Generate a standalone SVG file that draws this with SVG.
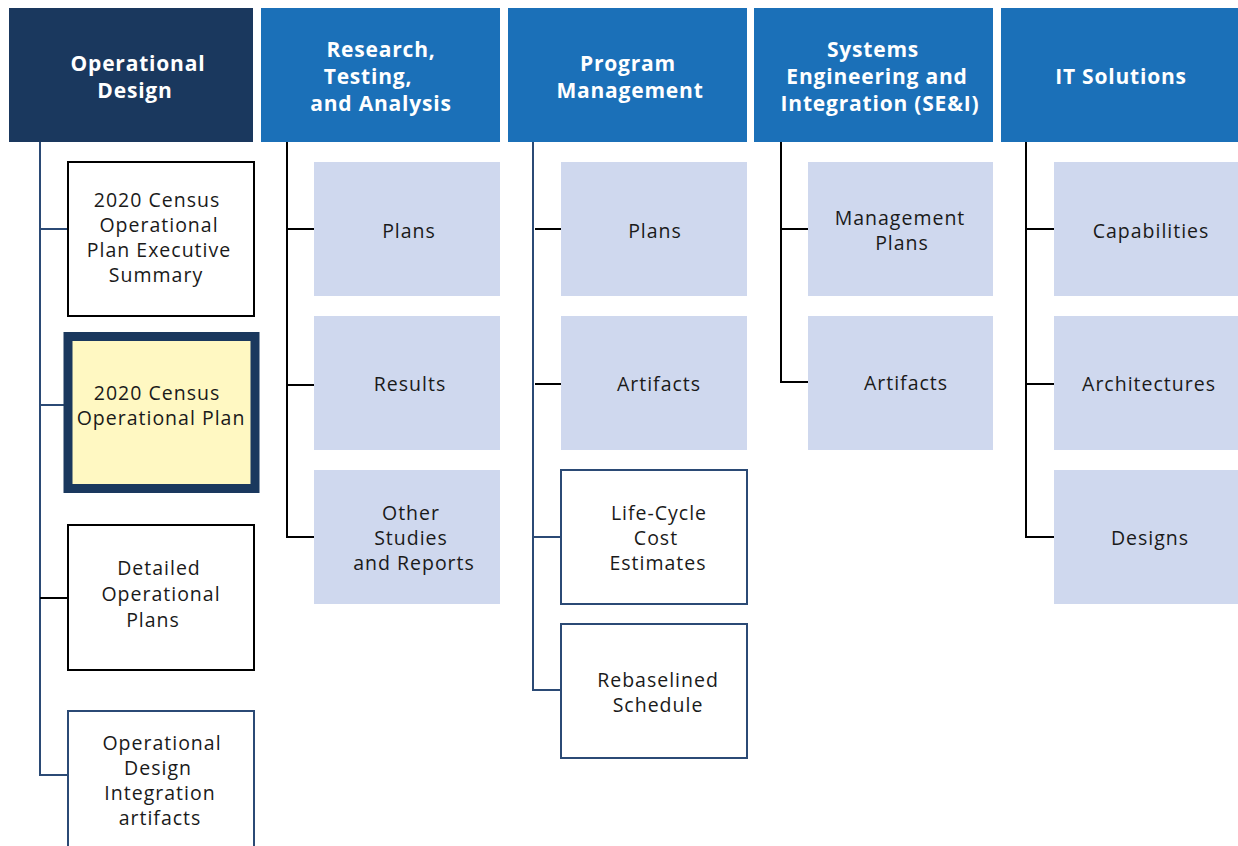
<svg xmlns="http://www.w3.org/2000/svg" width="1238" height="846" viewBox="0 0 1238 846">
<style>
.hd{font-family:"Open Sans","Liberation Sans",sans-serif;font-weight:700;font-size:21px;letter-spacing:0.8px;fill:#fff;text-anchor:middle}
.tx{font-family:"Open Sans","Liberation Sans",sans-serif;font-size:19.5px;letter-spacing:1px;fill:#1a1a1a;text-anchor:middle}
.lt{fill:#cfd8ee}
.wb{fill:#fff;stroke:#000;stroke-width:2}
.wu{fill:#fff;stroke:#2b4a75;stroke-width:2}
.cb{fill:none;stroke:#000;stroke-width:2}
.cu{fill:none;stroke:#2b4a75;stroke-width:2}
</style>
<rect width="1238" height="846" fill="#fff"/>
<g id="connectors">
<path class="cu" d="M40,142V775H68M40,229H68M40,405H64"/>
<path class="cb" d="M40,598H68"/>
<path class="cb" d="M287,142V537H314M287,229H314M287,385H314"/>
<path class="cu" d="M533,142V690H561M533,537H561"/>
<path class="cb" d="M535,229H561M535,384H561"/>
<path class="cb" d="M781,142V382H808M781,229H808"/>
<path class="cb" d="M1026,142V537H1054M1026,229H1054M1026,384H1054"/>
</g>
<g id="h-opdesign"><rect x="9" y="8" width="244" height="134" fill="#1a385e"/><text class="hd" x="138" y="71">Operational</text><text class="hd" x="135" y="98">Design</text></g>
<g id="h-research"><rect x="261" y="8" width="239" height="134" fill="#1b70b8"/><text class="hd" x="381" y="57">Research,</text><text class="hd" x="368" y="84">Testing,</text><text class="hd" x="381" y="111">and Analysis</text></g>
<g id="h-pm"><rect x="508" y="8" width="239" height="134" fill="#1b70b8"/><text class="hd" x="628" y="71">Program</text><text class="hd" x="630" y="98">Management</text></g>
<g id="h-sei"><rect x="754" y="8" width="239" height="134" fill="#1b70b8"/><text class="hd" x="873" y="57">Systems</text><text class="hd" x="877" y="84">Engineering and</text><text class="hd" x="880" y="111">Integration (SE&amp;I)</text></g>
<g id="h-it"><rect x="1001" y="8" width="237" height="134" fill="#1b70b8"/><text class="hd" x="1121" y="84">IT Solutions</text></g>

<g id="n-exec"><rect class="wb" x="68" y="162" width="186" height="154"/><text class="tx" x="157" y="207">2020 Census</text><text class="tx" x="159" y="232">Operational</text><text class="tx" x="159" y="257">Plan Executive</text><text class="tx" x="156" y="282">Summary</text></g>
<g id="n-opplan"><rect x="68" y="336.5" width="187" height="152" fill="#fff8c2" stroke="#1a385e" stroke-width="9"/><text class="tx" x="157" y="399.5">2020 Census</text><text class="tx" x="161" y="424.5">Operational Plan</text></g>
<g id="n-detailed"><rect class="wb" x="68" y="525" width="186" height="145"/><text class="tx" x="159" y="575">Detailed</text><text class="tx" x="161" y="601">Operational</text><text class="tx" x="153" y="627">Plans</text></g>
<g id="n-odi"><rect class="wu" x="68" y="711" width="186" height="145"/><text class="tx" x="162" y="750">Operational</text><text class="tx" x="158" y="775">Design</text><text class="tx" x="160" y="800">Integration</text><text class="tx" x="160" y="825">artifacts</text></g>

<g id="n-rta-plans"><rect class="lt" x="314" y="162" width="186" height="134"/><text class="tx" x="409" y="238">Plans</text></g>
<g id="n-rta-results"><rect class="lt" x="314" y="316" width="186" height="134"/><text class="tx" x="410" y="391">Results</text></g>
<g id="n-rta-other"><rect class="lt" x="314" y="470" width="186" height="134"/><text class="tx" x="411" y="520">Other</text><text class="tx" x="411" y="545">Studies</text><text class="tx" x="414" y="570">and Reports</text></g>

<g id="n-pm-plans"><rect class="lt" x="561" y="162" width="186" height="134"/><text class="tx" x="655" y="238">Plans</text></g>
<g id="n-pm-artifacts"><rect class="lt" x="561" y="316" width="186" height="134"/><text class="tx" x="659" y="391">Artifacts</text></g>
<g id="n-pm-lcce"><rect class="wu" x="561" y="470" width="186" height="134"/><text class="tx" x="659" y="520">Life-Cycle</text><text class="tx" x="656" y="545">Cost</text><text class="tx" x="658" y="570">Estimates</text></g>
<g id="n-pm-sched"><rect class="wu" x="561" y="624" width="186" height="134"/><text class="tx" x="658" y="686.5">Rebaselined</text><text class="tx" x="658" y="711.5">Schedule</text></g>

<g id="n-sei-mp"><rect class="lt" x="808" y="162" width="185" height="134"/><text class="tx" x="900" y="225">Management</text><text class="tx" x="902" y="250">Plans</text></g>
<g id="n-sei-art"><rect class="lt" x="808" y="316" width="185" height="134"/><text class="tx" x="906" y="390">Artifacts</text></g>

<g id="n-it-cap"><rect class="lt" x="1054" y="162" width="184" height="134"/><text class="tx" x="1151" y="238">Capabilities</text></g>
<g id="n-it-arch"><rect class="lt" x="1054" y="316" width="184" height="134"/><text class="tx" x="1149" y="391">Architectures</text></g>
<g id="n-it-des"><rect class="lt" x="1054" y="470" width="184" height="134"/><text class="tx" x="1150" y="545">Designs</text></g>
</svg>
